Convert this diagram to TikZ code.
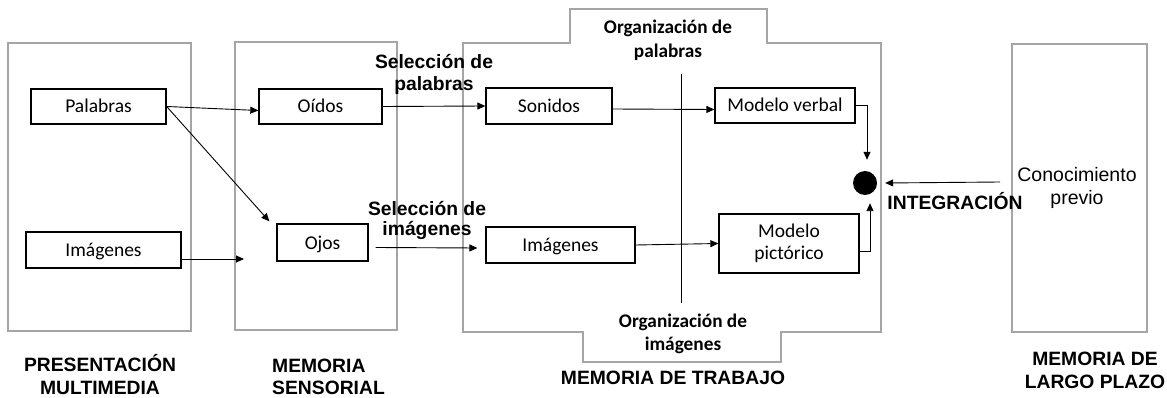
\documentclass[tikz,border=0pt]{standalone}
\usepackage{fontspec}
\setmainfont{Liberation Sans}
\newfontfamily\calfont{Carlito}
\usetikzlibrary{arrows.meta,calc}
\definecolor{boxgray}{RGB}{165,165,165}
\tikzset{
  inbox/.style={draw=black,line width=1.3pt,inner sep=0pt,font=\calfont\fontsize{19.5}{23}\selectfont,align=center,text height=15pt,text depth=2pt},
  outbox/.style={draw=boxgray,line width=1.6pt,inner sep=0pt},
  arr/.style={draw=black,line width=0.9pt,-{Triangle[length=8pt,width=7pt]}},
  plain/.style={draw=black,line width=0.9pt},
  boldlbl/.style={font=\bfseries\fontsize{19.3}{22}\selectfont,align=center,inner sep=0pt},
  orglbl/.style={font=\calfont\bfseries\fontsize{19.3}{24}\selectfont,align=center,inner sep=0pt},
}
\begin{document}
\begin{tikzpicture}[x=1pt,y=-1pt]
\useasboundingbox (0,0) rectangle (1167,398);
% outer boxes
\node[outbox,minimum width=183pt,minimum height=288pt] (b1) at (99.5,187) {};
\node[outbox,minimum width=162pt,minimum height=288pt] (b2) at (316,186) {};
\node[outbox,minimum width=135pt,minimum height=288pt] (b4) at (1079.5,188) {};
\draw[boxgray,line width=1.6pt] (463,43) -- (570,43) -- (570,9) -- (767,9) -- (767,43) -- (881,43) -- (881,332) -- (781,332) -- (781,362) -- (583,362) -- (583,332) -- (463,332) -- cycle;
% inner boxes
\node[inbox,minimum width=135pt,minimum height=35pt] (palabras) at (98.5,106.5) {Palabras};
\node[inbox,minimum width=155pt,minimum height=36pt] (imgL) at (103.5,250) {Imágenes};
\node[inbox,minimum width=123pt,minimum height=35pt] (oidos) at (320.5,106.5) {Oídos};
\node[inbox,minimum width=91pt,minimum height=37pt] (ojos) at (322.5,242.5) {Ojos};
\node[inbox,minimum width=126pt,minimum height=36pt] (sonidos) at (549,106) {Sonidos};
\node[inbox,minimum width=149pt,minimum height=36pt] (imgM) at (560.5,245) {Imágenes};
\node[inbox,minimum width=140pt,minimum height=35pt] (verbal) at (785,105.5) {Modelo verbal};
\node[draw=black,line width=1.3pt,inner sep=0pt,align=center,minimum width=140pt,minimum height=59pt,font=\calfont\fontsize{19.5}{22}\selectfont] (pict) at (789,243.5) {Modelo\\pictórico};
\node[circle,fill=black,minimum size=24pt,inner sep=0pt] (dot) at (865,183) {};
% separator line
\coordinate (vtop) at (681,74);
\coordinate (vbot) at (681,303);
\draw[plain] (vtop) -- (vbot);
% free ends
\coordinate (e1) at (244,259);
\coordinate (c1) at (1000,182);
% connectors
\draw[arr] (palabras.east) -- ([yshift=-4pt]oidos.west);
\draw[arr] (palabras.east) -- ([shift={(-7pt,2pt)}]ojos.north west);
\draw[arr] ([yshift=-9pt]imgL.east) -- (e1);
\draw[arr] (oidos.east) -- (sonidos.west);
\draw[arr] ([shift={(7pt,-5pt)}]ojos.east) -- ([shift={(-8pt,-3pt)}]imgM.west);
\draw[arr] ([yshift=-3pt]sonidos.east) -- ([yshift=-4pt]verbal.west);
\draw[arr] (imgM.east) -- (pict.west);
\draw[arr] (verbal.east) -| ([shift={(2pt,11pt)}]dot.north);
\draw[arr] ([yshift=-8pt]pict.east) -| ([shift={(5pt,-8pt)}]dot.south);
\draw[arr] (c1) -- ([xshift=8pt]dot.east);
% labels
\node[boldlbl] (selpal) at (434,74) {Selección de\\palabras};
\node[boldlbl,font=\bfseries\fontsize{19.3}{20}\selectfont] (selimg) at (427,220) {Selección de\\imágenes};
\node[orglbl] (orgpal) at (668,40) {Organización de\\palabras};
\node[orglbl,font=\calfont\bfseries\fontsize{19.3}{23}\selectfont] (orgimg) at (683,334) {Organización de\\imágenes};
\node[boldlbl] (memtrab) at (673,378) {MEMORIA DE TRABAJO};
\node[boldlbl,font=\bfseries\fontsize{19.3}{23}\selectfont] (presmult) at (100,375) {PRESENTACIÓN\\MULTIMEDIA};
\node[boldlbl,align=left,anchor=west,font=\bfseries\fontsize{19.3}{22}\selectfont] (memsens) at (272,377) {MEMORIA\\SENSORIAL};
\node[boldlbl,font=\bfseries\fontsize{19.3}{23}\selectfont] (memlp) at (1095,370) {MEMORIA DE\\LARGO PLAZO};
\node[boldlbl] (integ) at (955,201) {INTEGRACIÓN};
\node[font=\fontsize{19.5}{23}\selectfont,align=center,inner sep=0pt] (conoc) at (1077,188) {Conocimiento\\previo};
\end{tikzpicture}
\end{document}
